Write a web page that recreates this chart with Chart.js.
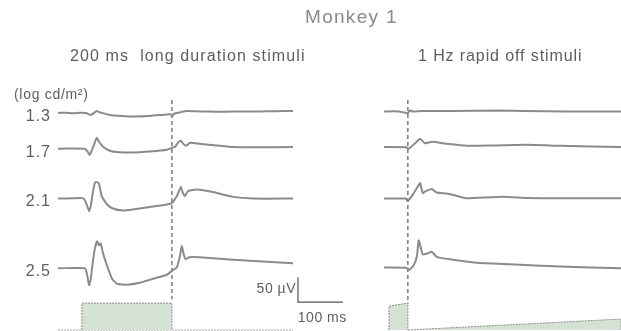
<!DOCTYPE html>
<html>
<head>
<meta charset="utf-8">
<script src="https://cdn.jsdelivr.net/npm/chart.js@4.4.0/dist/chart.umd.min.js"></script>
<style>
  body { margin:0; background:#fff; font-family:"Liberation Sans", Arial, sans-serif; }
  #wrap { position:relative; width:621px; height:331px; overflow:hidden; }
  canvas { position:absolute; top:0; }
  .txt { position:absolute; white-space:pre; color:#5e5e5e; }
</style>
</head>
<body>
<div id="wrap">
  <canvas id="left" width="360" height="331" style="left:0"></canvas>
  <canvas id="right" width="261" height="331" style="left:360px"></canvas>
  <div class="txt" style="left:305px;top:6px;font-size:19px;color:#8a8a8a;letter-spacing:1.3px">Monkey 1</div>
  <div class="txt" style="left:70px;top:47px;font-size:16px;letter-spacing:1.1px">200 ms  long duration stimuli</div>
  <div class="txt" style="left:418px;top:47px;font-size:16px;letter-spacing:0.9px">1 Hz rapid off stimuli</div>
  <div class="txt" style="left:14px;top:86px;font-size:14px;letter-spacing:0.7px">(log cd/m²)</div>
</div>
<script>
// intensities (log cd/m2) and vertical offset of each trace (µV)
const intensities = ['1.3', '1.7', '2.1', '2.5'];
const offsets = [312, 240, 140, 0];

// ERG traces, [time ms, µV] — 200 ms long duration stimuli
const left13 = [[-53,0],[-35,0.5],[-20,-0.5],[-4,0.5],[9,0],[16,-3],[20,-4],[27,0],[33,4],[40,1],[62,-4],[90,-6],[113,-7],[151,-6],[189,-3],[198,-3],[200,-7],[204,-2],[211,0],[233,4],[262,3],[300,2.5],[336,2.6],[396,3],[430,3.5],[469,4]];
const left17 = [[-53,0],[-30,0.5],[7,0],[13,-6],[17,-12],[20,-8],[27,8],[33,22],[38,14],[47,4],[62,-4],[84,-7],[113,-7.5],[151,-5.5],[189,-2],[200,2],[207,4],[213,12],[220,16],[227,8],[233,7],[240,12],[262,10],[300,6.6],[336,3.4],[396,3],[469,3.5]];
const left21 = [[-53,0],[-20,0.5],[-4,1],[4,0],[9,-8],[16,-25],[20,-14],[24,10],[29,32],[33,33],[38,30],[44,5],[56,-12],[69,-20],[91,-24],[113,-22],[151,-17],[189,-12],[200,-9],[211,5],[216,16],[220,23],[224,12],[229,5],[236,15],[256,18],[291,13],[336,3.4],[380,0],[469,0]];
const left25 = [[-53,0],[-20,0.5],[7,0],[11,-10],[16,-34],[20,-20],[24,10],[29,40],[34,54],[38,46],[42,50],[47,30],[56,5],[67,-21],[78,-31],[100,-33],[129,-29],[158,-21],[189,-13],[200,-5],[211,2],[218,25],[222,45],[227,25],[231,18],[238,22],[262,22],[336,17],[411,13],[469,10]];

// 1 Hz rapid off stimuli
const right13 = [[-53,3],[-20,3],[-3,0],[0,-1],[4,5],[11,3],[30,4],[100,4],[200,5],[260,4],[350,3],[473,3]];
const right17 = [[-53,3.4],[-3,3],[0,0],[5,2],[15,10],[27,20],[38,11],[53,14],[87,10],[131,6],[189,6.6],[264,8],[338,6],[473,3.4]];
const right21 = [[-53,0],[-5,0],[-1,-5],[2,-3],[11,8],[22,24],[27,31],[33,11],[38,14],[53,19],[64,12],[87,10],[116,3.4],[131,0.6],[211,3.4],[264,1],[338,0.5],[473,0.5]];
const right25 = [[-53,1.4],[-5,1],[0,-1],[4,-3],[13,6],[20,24],[24,56],[29,40],[33,28],[44,30],[53,33],[64,23],[93,18],[153,11],[227,8],[338,3.4],[473,0]];

// stimulus outlines [time ms, level]
const leftStim = [[0,-124],[0,-70],[200,-70],[200,-124]];
const rightStimEnd = [[-42,-124],[-42,-76],[0,-70],[0,-124]];
const rightRamp = [[0,-124],[473,-102],[473,-124]];
const leftStimBase = [[-53,-124],[469,-124]];

// dashed stimulus marker, scale bar
const leftMarker = [[200,338],[200,-62]];
const rightMarker = [[0,338],[0,-72]];
const scaleBar = [[480,-18],[480,-68],[580,-68]];

const traceColor = '#8b8b8b';
const toXY = arr => arr.map(p => ({x:p[0], y:p[1]}));
const shift = (arr, off) => arr.map(p => ({x:p[0], y:p[1] + off}));

function traceSet(arr, off){
  return { data: shift(arr, off), borderColor: traceColor, borderWidth: 2, pointRadius: 0, tension: 0.15, fill: false };
}
function stimSet(arr){
  return { data: toXY(arr), borderColor: '#8f8f8f', borderWidth: 1, borderDash: [2,1], backgroundColor: '#d4e2d3', pointRadius: 0, tension: 0, fill: { value: -124 } };
}
function lineSet(arr, color, dash, w){
  return { data: toXY(arr), borderColor: color, borderWidth: w, borderDash: dash, pointRadius: 0, tension: 0, fill: false };
}

const labelPlugin = {
  id: 'labels',
  afterDraw(chart){
    if (chart.canvas.id !== 'left') return;
    const {ctx, scales:{x, y}} = chart;
    ctx.save();
    ctx.fillStyle = '#5e5e5e';
    ctx.font = '16px "Liberation Sans", Arial, sans-serif';
    ctx.letterSpacing = '1px';
    ctx.textAlign = 'right';
    ctx.textBaseline = 'middle';
    intensities.forEach((lab, i) => {
      ctx.fillText(lab, chart.chartArea.left - 7, y.getPixelForValue(offsets[i] - 7));
    });
    ctx.font = '14px "Liberation Sans", Arial, sans-serif';
    ctx.letterSpacing = '0.5px';
    ctx.fillText('50 µV', x.getPixelForValue(scaleBar[0][0]) - 2, y.getPixelForValue(-42));
    ctx.textAlign = 'center';
    ctx.fillText('100 ms', x.getPixelForValue((scaleBar[1][0] + scaleBar[2][0]) / 2 + 4), y.getPixelForValue(-101));
    ctx.restore();
  }
};

function makeChart(id, datasets, xMin, xMax, padding){
  return new Chart(document.getElementById(id).getContext('2d'), {
    type: 'line',
    data: { datasets },
    options: {
      responsive: false,
      animation: false,
      devicePixelRatio: 1,
      layout: { padding },
      scales: {
        x: { type: 'linear', min: xMin, max: xMax, display: false },
        y: { type: 'linear', min: -126, max: 352, display: false }
      },
      plugins: { legend: { display: false }, tooltip: { enabled: false } }
    },
    plugins: [labelPlugin]
  });
}

makeChart('left', [
  stimSet(leftStim),
  lineSet(leftStimBase, '#a0a0a0', [2,1], 1),
  traceSet(left13, offsets[0]),
  traceSet(left17, offsets[1]),
  traceSet(left21, offsets[2]),
  traceSet(left25, offsets[3]),
  lineSet(leftMarker, '#5a5a5a', [4,3], 1.2),
  lineSet(scaleBar, '#555', [], 1.2)
], -53, 600, { left: 58, right: 8, top: 93, bottom: 0 });

makeChart('right', [
  stimSet(rightStimEnd),
  stimSet(rightRamp),
  traceSet(right13, offsets[0]),
  traceSet(right17, offsets[1]),
  traceSet(right21, offsets[2]),
  traceSet(right25, offsets[3]),
  lineSet(rightMarker, '#5a5a5a', [4,3], 1.2)
], -53, 473, { left: 24, right: 0, top: 93, bottom: 0 });
</script>
</body>
</html>
